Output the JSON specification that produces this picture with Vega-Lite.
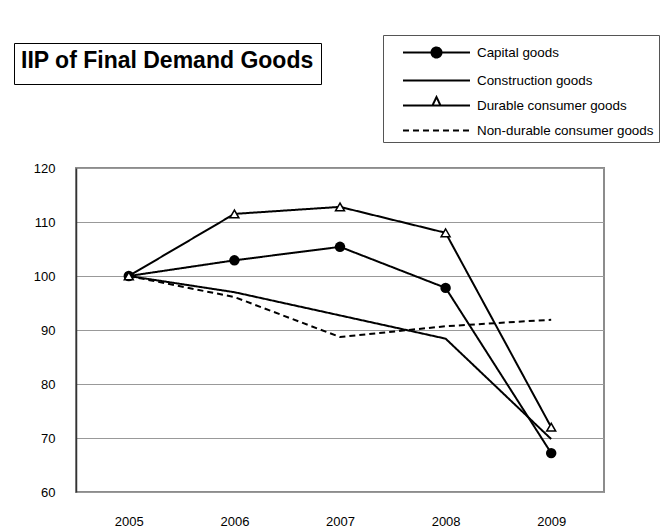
{
  "$schema": "https://vega.github.io/schema/vega-lite/v6.json",
  "autosize": {"type": "none"},
  "padding": {"left": 76, "top": 168, "right": 60, "bottom": 39},
  "width": 528,
  "height": 324,
  "background": "white",
  "config": {
    "font": "Liberation Sans",
    "view": {"stroke": "#8c8c8c", "strokeWidth": 2}
  },
  "data": {
    "values": [
      {"year": "2005", "series": "Capital goods", "value": 100},
      {"year": "2006", "series": "Capital goods", "value": 102.9},
      {"year": "2007", "series": "Capital goods", "value": 105.4},
      {"year": "2008", "series": "Capital goods", "value": 97.8},
      {"year": "2009", "series": "Capital goods", "value": 67.2},
      {"year": "2005", "series": "Construction goods", "value": 100},
      {"year": "2006", "series": "Construction goods", "value": 97.0},
      {"year": "2007", "series": "Construction goods", "value": 92.7},
      {"year": "2008", "series": "Construction goods", "value": 88.4},
      {"year": "2009", "series": "Construction goods", "value": 69.8},
      {"year": "2005", "series": "Durable consumer goods", "value": 100},
      {"year": "2006", "series": "Durable consumer goods", "value": 111.5},
      {"year": "2007", "series": "Durable consumer goods", "value": 112.8},
      {"year": "2008", "series": "Durable consumer goods", "value": 108.0},
      {"year": "2009", "series": "Durable consumer goods", "value": 72.0},
      {"year": "2005", "series": "Non-durable consumer goods", "value": 100},
      {"year": "2006", "series": "Non-durable consumer goods", "value": 96.1},
      {"year": "2007", "series": "Non-durable consumer goods", "value": 88.7},
      {"year": "2008", "series": "Non-durable consumer goods", "value": 90.7},
      {"year": "2009", "series": "Non-durable consumer goods", "value": 91.9}
    ]
  },
  "encoding": {
    "x": {
      "field": "year", "type": "ordinal",
      "scale": {"type": "point", "padding": 0.5},
      "axis": {"title": null, "labelAngle": 0, "ticks": false, "domain": false, "grid": false,
               "labelFontSize": 13, "labelPadding": 23, "labelColor": "black"}
    },
    "y": {
      "field": "value", "type": "quantitative",
      "scale": {"domain": [60, 120], "nice": false, "zero": false},
      "axis": {"title": null, "values": [60, 70, 80, 90, 100, 110, 120], "ticks": false,
               "domain": true, "domainColor": "#333", "domainWidth": 1.5,
               "grid": true, "gridColor": "#999", "gridWidth": 1,
               "labelFontSize": 13, "labelPadding": 21, "labelColor": "black"}
    }
  },
  "layer": [
    {
      "mark": {"type": "line", "color": "black", "strokeWidth": 2},
      "encoding": {
        "strokeDash": {
          "field": "series", "type": "nominal",
          "scale": {
            "domain": ["Capital goods", "Construction goods", "Durable consumer goods", "Non-durable consumer goods"],
            "range": [[1, 0], [1, 0], [1, 0], [6, 4]]
          },
          "legend": {
            "title": null,
            "orient": "none",
            "legendX": 307,
            "legendY": -133,
            "strokeColor": "#555",
            "fillColor": "white",
            "padding": 5,
            "symbolSize": 499,
            "symbolStrokeWidth": 2,
            "symbolStrokeColor": "black",
            "symbolOffset": 36,
            "labelOffset": 28,
            "labelFontSize": 13.4,
            "labelLimit": 400,
            "labelColor": "black",
            "rowPadding": 6,
            "encode": {
              "symbols": {
                "update": {
                  "shape": {"signal": "datum.value === 'Capital goods' ? 'M-3,0H3M-0.45,0A0.45,0.45 0 1 0 0.45,0A0.45,0.45 0 1 0 -0.45,0Z' : datum.value === 'Durable consumer goods' ? 'M-3,0H3M-0.36,0L0,-0.76L0.36,0Z' : 'M-3,0H3'"},
                  "fill": {"signal": "datum.value === 'Capital goods' ? 'black' : datum.value === 'Durable consumer goods' ? 'white' : 'transparent'"},
                  "stroke": {"value": "black"},
                  "opacity": {"value": 1}
                }
              }
            }
          }
        }
      }
    },
    {
      "transform": [{"filter": "datum.series === 'Capital goods'"}],
      "mark": {"type": "point", "shape": "circle", "filled": true, "color": "black", "size": 110, "opacity": 1}
    },
    {
      "transform": [{"filter": "datum.series === 'Durable consumer goods'"}],
      "mark": {"type": "point", "shape": "triangle-up", "filled": true, "fill": "white", "stroke": "black", "strokeWidth": 1.5, "size": 80},
      "encoding": {
        "opacity": {
          "field": "year", "type": "ordinal",
          "scale": {"range": [1, 1]},
          "legend": {
            "title": "IIP of Final Demand Goods",
            "orient": "none",
            "legendX": -62,
            "legendY": -125,
            "strokeColor": "black",
            "fillColor": "white",
            "padding": 7,
            "titleFontSize": 23,
            "titleFontWeight": "bold",
            "titleColor": "black",
            "titleLimit": 500,
            "titlePadding": 0,
            "values": ["2005"],
            "symbolSize": 0,
            "symbolOpacity": 0,
            "labelExpr": "''",
            "labelFontSize": 1,
            "labelOpacity": 0,
            "encode": {"legend": {"update": {"strokeWidth": {"value": 2}}}}
          }
        }
      }
    }
  ]
}
